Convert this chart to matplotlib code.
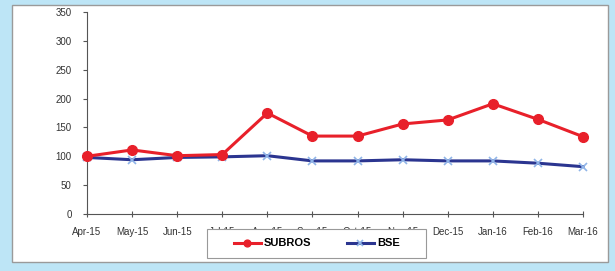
import matplotlib
matplotlib.use("Agg")
import matplotlib.pyplot as plt
from matplotlib.patches import Rectangle

months = ["Apr-15", "May-15", "Jun-15", "Jul-15", "Aug-15", "Sep-15",
          "Oct-15", "Nov-15", "Dec-15", "Jan-16", "Feb-16", "Mar-16"]
subros = [100, 111, 101, 103, 175, 135, 135, 156, 163, 191, 164, 134]
bse = [98, 94, 98, 99, 101, 92, 92, 94, 92, 92, 88, 82]

plt.rcParams['font.family'] = ['Liberation Sans', 'DejaVu Sans']

fig = plt.figure(figsize=(6.15, 2.71), dpi=100)
fig.patch.set_facecolor('#bde5f6')

# white panel with a grey frame
panel = Rectangle((12 / 615, 1 - 262 / 271), 596 / 615, 257 / 271,
                  transform=fig.transFigure, facecolor='white',
                  edgecolor='#9a9a9a', linewidth=1, zorder=-5)
fig.patches.append(panel)

ax = fig.add_axes([87 / 615, 1 - 214 / 271, 496 / 615, 202 / 271])
ax.set_facecolor('none')

x = list(range(len(months)))
ax.plot(x, subros, color='#e8202a', linewidth=2.2, marker='o',
        markersize=7, label='SUBROS', zorder=3, clip_on=False)
ax.plot(x, bse, color='#2b3590', linewidth=2.2, marker='x',
        markersize=6, markeredgecolor='#8fb4e8', markeredgewidth=1.2,
        label='BSE', zorder=2, clip_on=False)

ax.set_ylim(0, 350)
ax.set_yticks(range(0, 351, 50))
ax.set_xlim(0, len(months) - 1)
ax.set_xticks(x)
ax.set_xticklabels(months)

for s in ['top', 'right']:
    ax.spines[s].set_visible(False)
for s in ['left', 'bottom']:
    ax.spines[s].set_color('#555555')
    ax.spines[s].set_linewidth(0.8)

ax.tick_params(axis='y', direction='out', length=3, width=0.8,
               labelsize=7, colors='#555555', labelcolor='#333333', pad=8)
ax.tick_params(axis='x', direction='inout', length=5, width=0.8,
               labelsize=7, colors='#555555', labelcolor='#333333', pad=7)

# legend box sits over the middle tick labels, as in the original
legbox = Rectangle((207 / 615, 1 - 258 / 271), 219 / 615, 29 / 271,
                   transform=fig.transFigure, facecolor='white',
                   edgecolor='#999999', linewidth=0.8, zorder=4)
fig.patches.append(legbox)

leg = fig.legend(loc='center left', bbox_to_anchor=(234 / 615, 1 - 243.5 / 271),
                 ncol=2, frameon=False, handlelength=2.4, handletextpad=0.3,
                 columnspacing=3.2, borderpad=0, borderaxespad=0,
                 markerscale=0.7, prop={'size': 8, 'weight': 'bold'})
leg.set_zorder(5)

fig.savefig('out.png', dpi=100, facecolor=fig.get_facecolor())
